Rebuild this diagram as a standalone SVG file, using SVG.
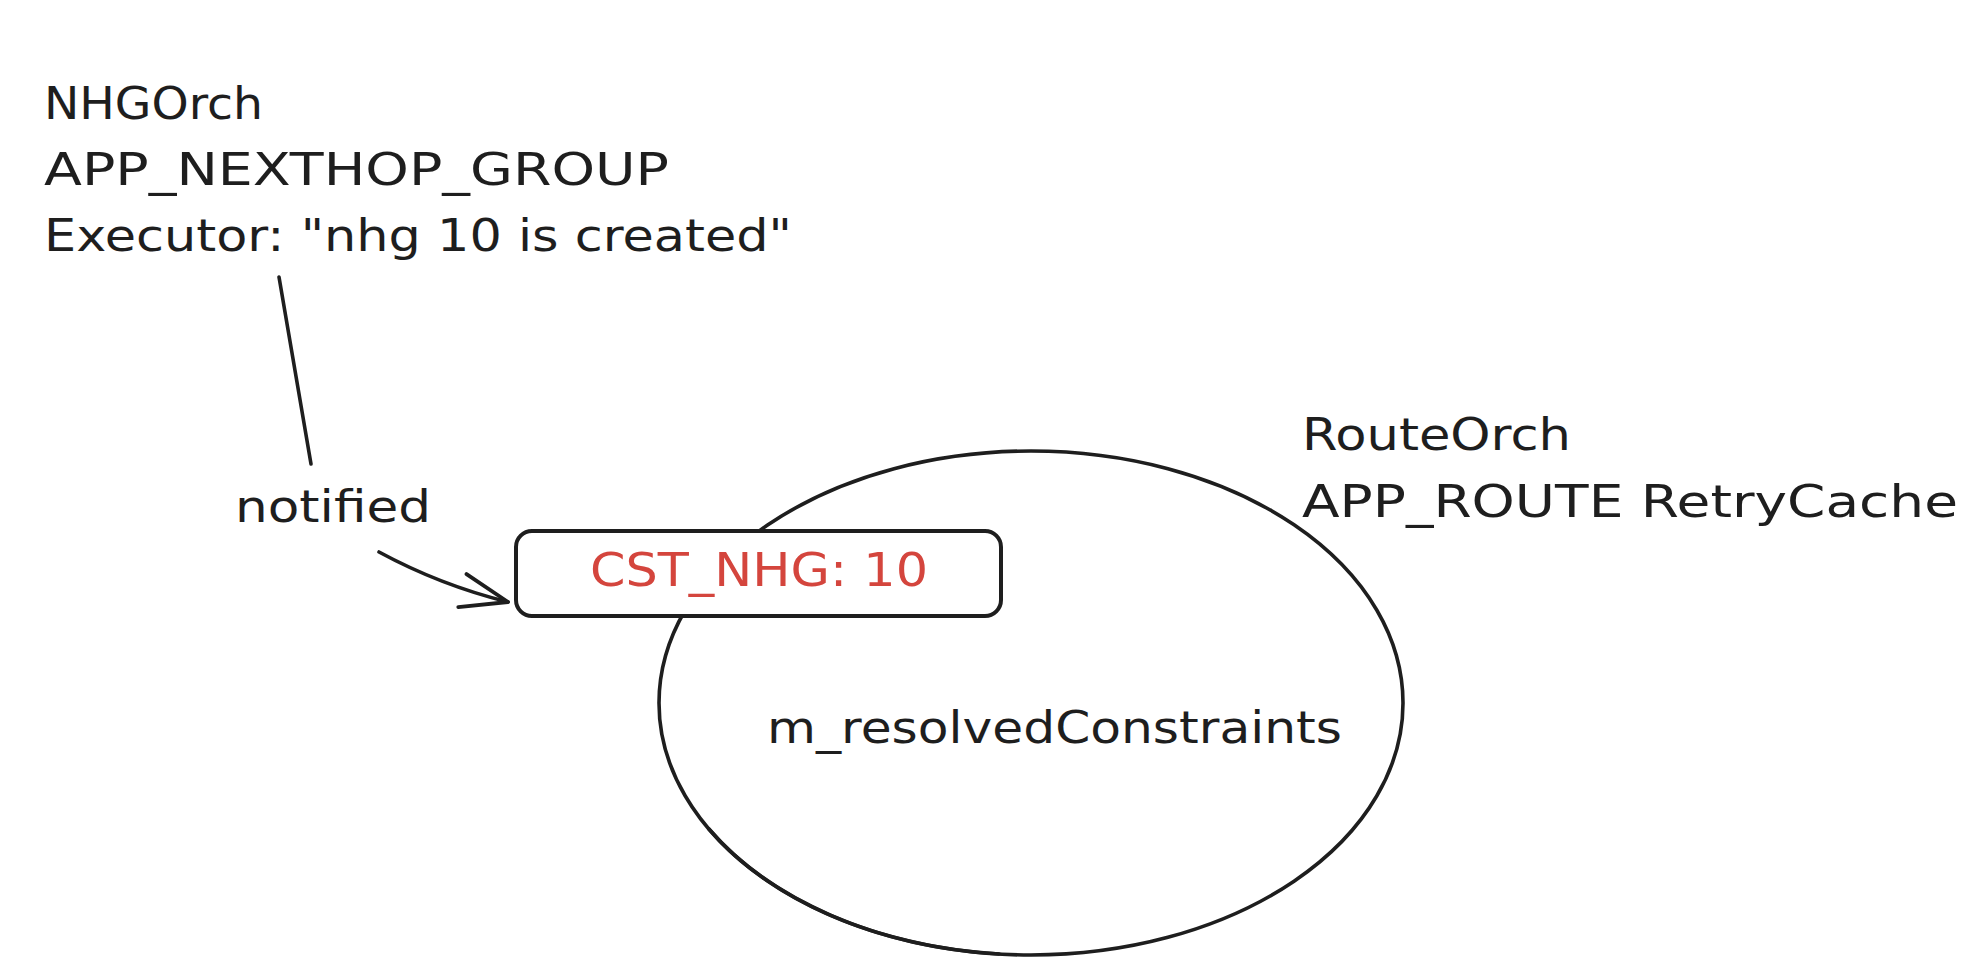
<svg xmlns="http://www.w3.org/2000/svg" width="1988" height="974" viewBox="0 0 1988 974">
  <style>
    .t { font-family: "DejaVu Sans", "Liberation Sans", sans-serif; font-size: 44px; fill: #1e1e1e; }
    .red { fill: #d4453d; font-size: 46px; }
    .stroke { fill: none; stroke: #1e1e1e; stroke-width: 3.6; stroke-linecap: round; stroke-linejoin: round; }
  </style>
  <defs>
    <marker id="arrow" markerUnits="userSpaceOnUse" viewBox="-52 -22 56 44" refX="0" refY="0" markerWidth="56" markerHeight="44" orient="auto">
      <path d="M -47 -17 L 0 0 L -47 17" fill="none" stroke="#1e1e1e" stroke-width="3.8" stroke-linecap="round" stroke-linejoin="round"/>
    </marker>
  </defs>
  <rect width="1988" height="974" fill="#ffffff"/>

  <g id="nhgorch">
    <text class="t" x="44" y="119" textLength="219" lengthAdjust="spacingAndGlyphs">NHGOrch</text>
    <text class="t" x="44" y="185" textLength="625" lengthAdjust="spacingAndGlyphs">APP_NEXTHOP_GROUP</text>
    <text class="t" x="44" y="251" textLength="748" lengthAdjust="spacingAndGlyphs">Executor: "nhg 10 is created"</text>
  </g>

  <g id="routeorch">
    <ellipse class="stroke" cx="1031" cy="703" rx="372" ry="252"/>
    <path class="stroke" d="M 709 829 A 372 252 0 0 0 999 954" stroke-width="5"/>
    <text class="t" x="1302" y="450" textLength="269" lengthAdjust="spacingAndGlyphs">RouteOrch</text>
    <text class="t" x="1302" y="517" textLength="656" lengthAdjust="spacingAndGlyphs">APP_ROUTE RetryCache</text>
    <text class="t" x="767" y="743" textLength="575" lengthAdjust="spacingAndGlyphs">m_resolvedConstraints</text>
  </g>

  <g id="cst-nhg">
    <rect x="516" y="531" width="485" height="85" rx="16" ry="16" fill="#ffffff" stroke="#1e1e1e" stroke-width="4"/>
    <text class="t red" x="590" y="586" textLength="338" lengthAdjust="spacingAndGlyphs">CST_NHG: 10</text>
  </g>

  <g id="connectors">
    <path class="stroke" d="M 279 277 Q 297 380 311 464"/>
    <path class="stroke" d="M 379 552 Q 440 585 508 602" marker-end="url(#arrow)"/>
    <text class="t" x="235" y="522" textLength="196" lengthAdjust="spacingAndGlyphs">notified</text>
  </g>
</svg>
